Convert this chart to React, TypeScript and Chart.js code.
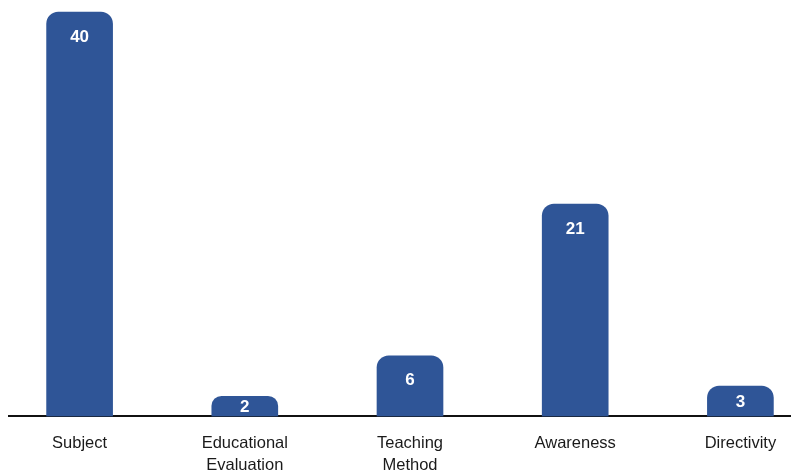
import React, { useEffect, useRef } from "react";
import { Chart, registerables } from "chart.js";

Chart.register(...registerables);

const categories: (string | string[])[] = [
  "Subject",
  ["Educational", "Evaluation"],
  ["Teaching", "Method"],
  "Awareness",
  "Directivity",
];
const counts: number[] = [40, 2, 6, 21, 3];

const BAR_COLOR = "#2F5597";
const FONT = "'Liberation Sans', Arial, sans-serif";

const valueLabels = {
  id: "valueLabels",
  afterDatasetsDraw(chart: any) {
    const ctx = chart.ctx;
    const meta = chart.getDatasetMeta(0);
    ctx.save();
    ctx.fillStyle = "#ffffff";
    ctx.font = `bold 17px ${FONT}`;
    ctx.textAlign = "center";
    ctx.textBaseline = "middle";
    meta.data.forEach((bar: any, i: number) => {
      const { x, y, base } = bar.getProps(["x", "y", "base"], true);
      const ty = Math.min(y + 25, (y + base) / 2 + 1);
      ctx.fillText(String(counts[i]), x, ty);
    });
    ctx.restore();
  },
};

export default function App() {
  const ref = useRef<HTMLCanvasElement | null>(null);

  useEffect(() => {
    if (!ref.current) return;
    const chart = new Chart(ref.current, {
      type: "bar",
      data: {
        labels: categories,
        datasets: [
          {
            data: counts,
            backgroundColor: BAR_COLOR,
            borderRadius: 12,
            borderSkipped: "start",
            barThickness: 66,
          },
        ],
      },
      options: {
        animation: false,
        responsive: false,
        maintainAspectRatio: false,
        layout: { padding: 0 },
        plugins: {
          legend: { display: false },
          tooltip: { enabled: false },
          title: { display: false },
        },
        scales: {
          x: {
            grid: { display: false, drawTicks: false },
            border: { display: true, color: "#111111", width: 2 },
            ticks: {
              color: "#1a1a1a",
              font: { family: FONT, size: 16.5, lineHeight: 1.35 },
              padding: 16,
              maxRotation: 0,
              autoSkip: false,
            },
          },
          y: {
            display: false,
            min: 0,
            max: 41.2,
          },
        },
      },
      plugins: [valueLabels],
    });
    return () => chart.destroy();
  }, []);

  return (
    <div
      style={{
        position: "absolute",
        left: 8,
        top: 0,
        width: 783,
        height: 472,
        overflow: "hidden",
        background: "#ffffff",
      }}
    >
      <canvas
        ref={ref}
        width={826}
        height={493}
        style={{ position: "absolute", left: -11, top: 0, width: 826, height: 493 }}
      />
    </div>
  );
}
